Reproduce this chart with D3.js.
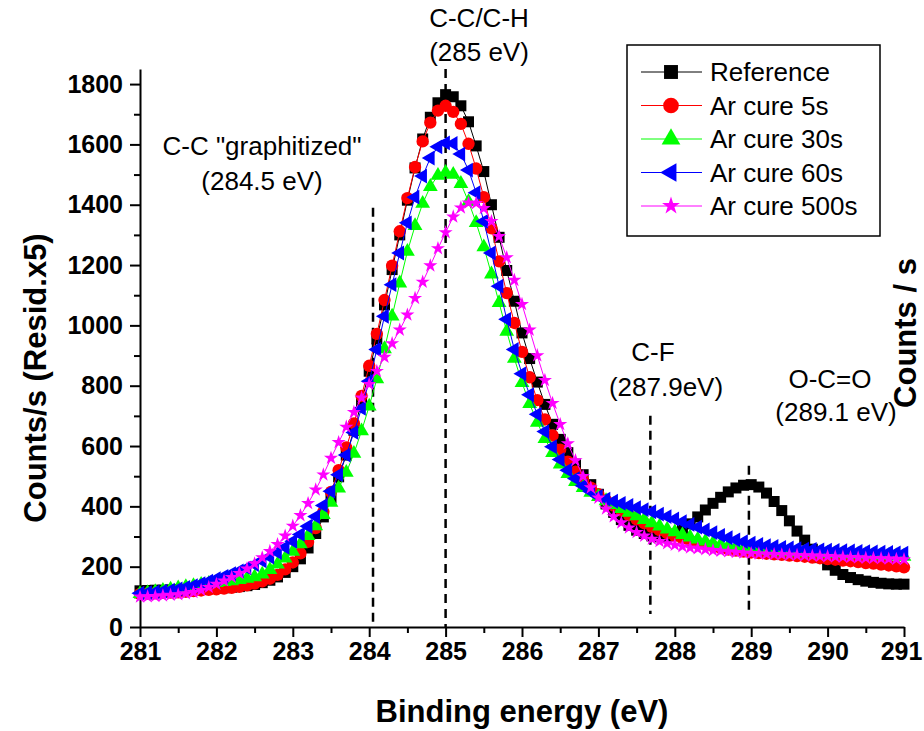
<!DOCTYPE html>
<html>
<head>
<meta charset="utf-8">
<script src="https://cdn.jsdelivr.net/npm/d3@7"></script>
<style>
  body { margin: 0; background: #fff; }
  svg { display: block; font-family: Arial, "Liberation Sans", sans-serif; }
</style>
</head>
<body>
<svg id="chart" width="924" height="731"></svg>
<script>
"use strict"

// binding energy grid, one point every 0.1 eV from 281 to 291
const energy = d3.range(101).map(i => Math.round((281 + i * 0.1) * 10) / 10);

// counts/s, rows of 10 points (281.0-281.9, 282.0-282.9, ...)
const reference = [
  120, 121, 122, 122, 123, 124, 125, 126, 127, 128,
  129, 130, 132, 134, 137, 141, 147, 155, 166, 181,
  200, 226, 262, 310, 365, 428, 498, 570, 652, 745,
  848, 955, 1068, 1185, 1300, 1415, 1522, 1618, 1690, 1738,
  1765, 1758, 1728, 1675, 1595, 1510, 1400, 1292, 1182, 1080,
  975, 890, 812, 738, 672, 622, 578, 540, 505, 472,
  440, 408, 380, 356, 337, 321, 310, 302, 299, 301,
  308, 322, 342, 365, 388, 410, 430, 448, 461, 470,
  472, 464, 444, 416, 386, 352, 318, 288, 258, 230,
  206, 188, 174, 164, 157, 152, 148, 145, 143, 142,
  142
];
const cure5 = [
  110, 111, 112, 113, 114, 115, 117, 119, 121, 123,
  125, 127, 130, 133, 138, 144, 151, 160, 173, 191,
  214, 244, 282, 328, 382, 448, 520, 595, 675, 766,
  866, 972, 1084, 1198, 1312, 1422, 1525, 1610, 1672, 1712,
  1728, 1708, 1668, 1602, 1520, 1425, 1322, 1212, 1107, 1008,
  912, 828, 752, 688, 635, 588, 548, 515, 487, 462,
  440, 420, 402, 386, 371, 357, 344, 332, 321, 311,
  302, 294, 286, 279, 273, 267, 262, 257, 253, 250,
  247, 245, 243, 241, 239, 237, 235, 233, 230, 228,
  225, 223, 220, 218, 215, 212, 210, 207, 204, 201,
  198
];
const cure30 = [
  110, 113, 117, 121, 125, 129, 133, 137, 141, 144,
  147, 150, 153, 157, 161, 166, 175, 190, 208, 228,
  250, 275, 303, 335, 372, 413, 460, 512, 575, 650,
  732, 822, 922, 1030, 1140, 1245, 1330, 1404, 1460, 1497,
  1507, 1500, 1470, 1410, 1340, 1260, 1170, 1075, 980, 890,
  810, 740, 678, 624, 578, 540, 508, 482, 462, 446,
  432, 418, 405, 392, 380, 368, 356, 345, 334, 324,
  315, 306, 298, 291, 284, 278, 273, 268, 264, 260,
  257, 255, 253, 251, 250, 249, 248, 247, 246, 245,
  244, 243, 242, 241, 240, 239, 238, 237, 236, 235,
  234
];
const cure60 = [
  112, 114, 116, 119, 122, 126, 131, 137, 144, 152,
  160, 168, 177, 186, 196, 207, 219, 232, 247, 264,
  284, 307, 334, 366, 403, 450, 505, 570, 645, 725,
  815, 920, 1030, 1135, 1240, 1340, 1425, 1495, 1555, 1592,
  1605, 1603, 1568, 1515, 1440, 1345, 1240, 1130, 1020, 920,
  840, 770, 705, 648, 598, 555, 520, 492, 468, 449,
  433, 424, 417, 410, 403, 396, 389, 382, 374, 366,
  358, 349, 340, 331, 322, 313, 304, 296, 289, 283,
  278, 274, 270, 267, 264, 262, 260, 258, 257, 256,
  255, 254, 253, 252, 251, 250, 249, 248, 247, 246,
  245
];
const cure500 = [
  100, 101, 102, 104, 106, 108, 111, 115, 122, 132,
  142, 153, 165, 178, 193, 210, 230, 251, 274, 302,
  335, 370, 410, 455, 505, 560, 612, 663, 712, 760,
  805, 848, 895, 940, 985, 1035, 1090, 1144, 1198, 1255,
  1308, 1360, 1390, 1406, 1405, 1388, 1345, 1295, 1225, 1150,
  1070, 985, 900, 818, 742, 672, 608, 552, 500, 462,
  428, 392, 366, 346, 329, 314, 302, 292, 284, 277,
  272, 267, 263, 260, 257, 254, 252, 250, 248, 246,
  244, 243, 242, 241, 240, 239, 238, 237, 236, 235,
  234, 233, 232, 231, 230, 229, 228, 227, 226, 225,
  224
];

const seriesNames = ["Reference", "Ar cure 5s", "Ar cure 30s", "Ar cure 60s", "Ar cure 500s"];
const seriesValues = [reference, cure5, cure30, cure60, cure500];
const seriesColors = ["#000000", "#ff0000", "#00ff00", "#0000ff", "#ff00ff"];

const xTicks = d3.range(281, 292, 1);
const yTicks = d3.range(0, 1801, 200);

// peak positions marked with dashed lines (eV) and where each line starts (counts)
const peakNames = [["C-C \"graphitized\"", "(284.5 eV)"], ["C-C/C-H", "(285 eV)"], ["C-F", "(287.9eV)"], ["O-C=O", "(289.1 eV)"]];
const peakEnergy = [284.05, 285.0, 287.68, 288.97];
const peakTop = [1390, 1850, 700, 535];

let svg = d3.select("#chart");

let x = d3.scaleLinear().domain([281, 291]).range([140, 904]);
let y = d3.scaleLinear().domain([0, 1850]).range([627, 69]);

/* minor ticks first, then the labelled axes */
svg.append("g")
    .attr("transform", "translate(140,0)")
    .call(d3.axisLeft(y).tickValues(d3.range(100, 1801, 200)).tickSize(6).tickSizeOuter(0).tickFormat(""))
    .call(g => g.select(".domain").remove())
    .selectAll("line").attr("stroke-width", 2);

svg.append("g")
    .attr("transform", "translate(0,627)")
    .call(d3.axisBottom(x).tickValues(d3.range(281.5, 291, 1)).tickSize(6).tickSizeOuter(0).tickFormat(""))
    .call(g => g.select(".domain").remove())
    .selectAll("line").attr("stroke-width", 2);

let yAxis = svg.append("g")
    .attr("transform", "translate(140,0)")
    .call(d3.axisLeft(y).tickValues(yTicks).tickSize(10).tickSizeOuter(0).tickPadding(7).tickFormat(d3.format("d")));

let xAxis = svg.append("g")
    .attr("transform", "translate(0,627)")
    .call(d3.axisBottom(x).tickValues(xTicks).tickSize(10).tickSizeOuter(0).tickPadding(5).tickFormat(d3.format("d")));

[yAxis, xAxis].forEach(g => {
    g.select(".domain").attr("stroke-width", 2);
    g.selectAll("line").attr("stroke-width", 2);
    g.selectAll("text")
        .attr("font-family", "Arial, 'Liberation Sans', sans-serif")
        .attr("font-size", 25)
        .attr("font-weight", "bold")
        .attr("fill", "#000");
});
// keep the last x label inside the picture
xAxis.selectAll(".tick text").filter(d => d == 291).attr("dx", -3);

/* dashed peak markers */
svg.selectAll(".peakLine")
    .data(peakEnergy)
    .enter().append("line")
    .attr("x1", d => x(d))
    .attr("x2", d => x(d))
    .attr("y1", (d, i) => y(peakTop[i]))
    .attr("y2", (d, i) => i < 2 ? 627 : 614)
    .attr("stroke", "black")
    .attr("stroke-width", 2.5)
    .attr("stroke-dasharray", "9,6");

/* marker shapes for each series */
function markerPath(i, big) {
    let k = big ? 1.6 : 1;
    if (i == 0) return d3.symbol(d3.symbolSquare, 121 * k)();
    if (i == 1) return d3.symbol(d3.symbolCircle, 120 * k)();
    if (i == 2) return d3.symbol(d3.symbolTriangle, 95 * k)();
    if (i == 3) return d3.symbol(d3.symbolTriangle, 95 * k)();
    return d3.symbol(d3.symbolStar, 62 * k)();
}
function markerTurn(i) {
    return i == 3 ? " rotate(-90)" : "";
}

let line = d3.line().x((d, j) => x(energy[j])).y(d => y(d));

seriesValues.forEach((vals, i) => {
    let grp = svg.append("g");
    grp.append("path")
        .attr("d", line(vals))
        .attr("fill", "none")
        .attr("stroke", seriesColors[i])
        .attr("stroke-width", 1);
    grp.selectAll("path.mk")
        .data(vals)
        .enter().append("path")
        .attr("class", "mk")
        .attr("d", markerPath(i, false))
        .attr("transform", (d, j) => "translate(" + x(energy[j]) + "," + y(d) + ")" + markerTurn(i))
        .attr("fill", seriesColors[i]);
});

/* peak annotations */
let textPos = [[262, 155, 190], [479, 27, 61], [653, 361, 396], [830, 388, 421]];
peakNames.forEach((names, i) => {
    let p = textPos[i];
    svg.append("text").attr("x", p[0]).attr("y", p[1]).attr("text-anchor", "middle")
        .attr("font-size", 26).text(names[0]);
    svg.append("text").attr("x", i == 2 ? p[0] + 13 : p[0] + (i == 3 ? 6 : 0)).attr("y", p[2]).attr("text-anchor", "middle")
        .attr("font-size", 26).text(names[1]);
});

/* axis titles */
svg.append("text")
    .attr("x", 522).attr("y", 722)
    .attr("text-anchor", "middle")
    .attr("font-size", 31).attr("font-weight", "bold")
    .text("Binding energy (eV)");

svg.append("text")
    .attr("transform", "translate(46,378) rotate(-90)")
    .attr("text-anchor", "middle")
    .attr("font-size", 31).attr("font-weight", "bold")
    .text("Counts/s (Resid.x5)");

svg.append("text")
    .attr("transform", "translate(916,333) rotate(-90)")
    .attr("text-anchor", "middle")
    .attr("font-size", 31).attr("font-weight", "bold")
    .text("Counts / s");

/* legend */
let legend = svg.append("g");
legend.append("rect")
    .attr("x", 627).attr("y", 45)
    .attr("width", 253).attr("height", 191)
    .attr("fill", "white")
    .attr("stroke", "black")
    .attr("stroke-width", 1.5);

seriesNames.forEach((name, i) => {
    let cy = 72 + i * 33.5;
    legend.append("line")
        .attr("x1", 641).attr("x2", 702)
        .attr("y1", cy).attr("y2", cy)
        .attr("stroke", seriesColors[i]).attr("stroke-width", 1);
    legend.append("path")
        .attr("d", markerPath(i, true))
        .attr("transform", "translate(671," + cy + ")" + markerTurn(i))
        .attr("fill", seriesColors[i]);
    legend.append("text")
        .attr("x", 710).attr("y", cy + 9)
        .attr("font-size", 26)
        .text(name);
});
</script>
</body>
</html>
